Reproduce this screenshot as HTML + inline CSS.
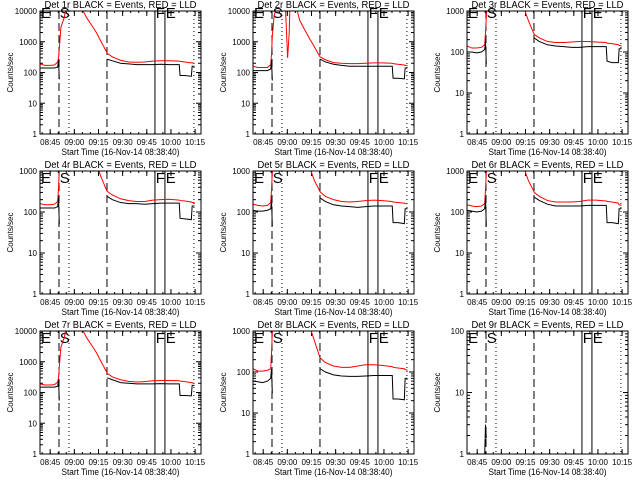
<!DOCTYPE html>
<html><head><meta charset="utf-8"><style>
html,body{margin:0;padding:0;background:#fff;}
svg{display:block;font-family:"Liberation Sans",sans-serif;}
</style></head><body>
<svg id="chart" width="640" height="480" viewBox="0 0 640 480" xmlns="http://www.w3.org/2000/svg">
<rect x="0" y="0" width="640" height="480" fill="#fff"/>
</svg>
<script>
// minutes since 08:38:40
const times = [0,3,6,9,11,11.5,12,13,15,17,20,21.5,22.5,23,26,29,32,35,38,41.5,41.7,45,50,55,60,65,70,75,80,86.5,87,90,94,94.5,96];
const N = null;
const detNames = ["1r","2r","3r","4r","5r","6r","7r","8r","9r"];
const yMaxes = [10000,10000,1000,1000,1000,1000,10000,1000,100];
const xTickLabels = ["08:45","09:00","09:15","09:30","09:45","10:00","10:15"];
const xTickTimes = [6.33,21.33,36.33,51.33,66.33,81.33,96.33];
const dashedTimes = [11.8,41.6];
const dottedTimes = [18,95.6];
const solidTimes = [71.4,77.6];
const markerLetters = ["E","S","F","E"];
const markerTimes = [0.6,12.3,71.9,78.1];

const black1 = [140,140,140,140,150,250,60,N,N,N,N,N,N,N,N,N,N,N,N,N,270,240,200,190,180,180,180,185,180,180,80,80,75,160,160];
const red1 = [190,170,170,175,220,300,600,3000,6000,20000,20000,20000,20000,20000,12000,6000,3500,2000,1000,450,420,320,250,220,215,220,235,240,240,235,230,220,205,205,200];
const black2 = [115,115,115,115,130,250,55,N,N,N,N,N,N,N,N,N,N,N,N,N,270,220,185,170,160,160,160,160,160,160,65,65,62,140,140];
const red2 = [160,145,145,145,180,400,1500,6000,20000,20000,20000,300,2000,20000,20000,5000,2500,1300,700,330,320,260,210,200,195,195,200,205,205,200,195,185,175,170,165];
const black3 = [100,100,95,100,115,180,50,N,N,N,N,N,N,N,N,N,N,N,N,N,220,180,150,140,135,130,130,135,135,135,60,55,55,120,120];
const red3 = [140,125,125,130,150,300,700,3000,20000,20000,20000,20000,20000,20000,20000,5000,2500,1300,600,280,270,220,180,170,170,175,180,180,175,170,165,160,150,145,140];
const black4 = [125,125,125,125,135,220,50,N,N,N,N,N,N,N,N,N,N,N,N,N,240,200,170,160,160,155,160,165,165,165,70,68,65,140,140];
const red4 = [160,150,150,155,180,400,1000,4000,20000,20000,20000,20000,20000,20000,20000,6000,3000,1500,700,330,320,260,210,190,180,180,195,200,205,195,190,185,175,170,170];
const black5 = [110,105,105,110,120,200,45,N,N,N,N,N,N,N,N,N,N,N,N,N,220,180,150,140,135,130,135,140,140,140,55,55,52,120,120];
const red5 = [155,145,140,145,170,350,900,4000,20000,20000,20000,20000,20000,20000,20000,5000,2500,1300,600,320,310,240,200,180,175,180,190,195,190,180,175,170,165,160,160];
const black6 = [110,105,100,105,120,220,45,N,N,N,N,N,N,N,N,N,N,N,N,N,230,190,155,140,140,140,140,145,145,145,55,55,52,120,120];
const red6 = [150,140,135,140,160,350,900,4000,20000,20000,20000,20000,20000,20000,20000,5000,2500,1300,600,320,300,240,190,175,175,175,180,195,195,185,180,175,165,150,145];
const black7 = [150,150,150,150,160,250,55,N,N,N,N,N,N,N,N,N,N,N,N,N,300,260,210,200,190,190,190,195,190,190,80,80,78,170,170];
const red7 = [190,175,175,180,220,300,700,3000,6000,20000,20000,20000,20000,20000,12000,6000,3500,2000,1000,450,420,320,260,230,220,225,240,245,245,240,235,225,210,205,200];
const black8 = [60,58,55,60,70,120,30,N,N,N,N,N,N,N,N,N,N,N,N,N,120,100,85,80,78,78,80,82,82,82,22,22,21,70,70];
const red8 = [120,105,105,110,120,300,900,4000,20000,20000,20000,20000,20000,20000,20000,6000,3000,1400,600,230,220,170,140,130,130,140,150,150,145,135,130,125,120,115,110];
const black9 = [N,N,N,N,1,3,1.8,N,N,N,N,N,N,N,N,N,N,N,N,N,N,N,N,N,N,N,N,N,N,N,N,N,N,N,N];
const red9 = [N,N,N,N,N,N,N,N,N,N,N,N,N,N,N,N,N,N,N,N,N,N,N,N,N,N,N,N,N,N,N,N,N,N,N];
const blacks = [black1,black2,black3,black4,black5,black6,black7,black8,black9];
const reds = [red1,red2,red3,red4,red5,red6,red7,red8,red9];

const NS = "http://www.w3.org/2000/svg";
const svg = document.getElementById("chart");
function mk(tag, attrs, parent){
  const e = document.createElementNS(NS, tag);
  for (const k in attrs) e.setAttribute(k, attrs[k]);
  (parent||svg).appendChild(e);
  return e;
}
const colLefts = [40,253,467];
const rowTops = [11,171,331];
const PW = 161, PH = 123, TSPAN = 100;

for (let p = 0; p < 9; p++) {
  const L = colLefts[p%3], T = rowTops[Math.floor(p/3)], B = T + PH, R = L + PW;
  const ymax = yMaxes[p];
  const lmax = Math.log10(ymax);
  const xs = t => L + t*PW/TSPAN;
  const ys = v => B - Math.log10(v)/lmax*PH;
  const g = mk("g", {});
  
  
  const cid = "clip"+p;
  const cp = mk("clipPath", {id:cid}, g);
  mk("rect", {x:L, y:T, width:PW, height:PH}, cp);

  const title = mk("text", {x:L+PW/2, y:T-3, "text-anchor":"middle", "font-size":"10", textLength:"152", lengthAdjust:"spacingAndGlyphs"}, g);
  title.textContent = "Det " + detNames[p] + " BLACK = Events, RED = LLD";
  
  

  const yt = mk("text", {x:0, y:0, transform:"translate(" + (L-27) + "," + (T+PH/2) + ") rotate(-90)", "text-anchor":"middle", "font-size":"8"}, g);
  yt.textContent = "Counts/sec";
  
  

  const xt = mk("text", {x:L+PW/2, y:B+21, "text-anchor":"middle", "font-size":"9", textLength:"118", lengthAdjust:"spacingAndGlyphs"}, g);
  xt.textContent = "Start Time (16-Nov-14 08:38:40)";
  
  

  for (let d = 0; d <= lmax; d++) {
    const v = Math.pow(10,d), y = ys(v);
    mk("line", {x1:L, x2:L+5, y1:y, y2:y, stroke:"#000"}, g);
    mk("line", {x1:R, x2:R-5, y1:y, y2:y, stroke:"#000"}, g);
    const lab = mk("text", {x:L-3, y:y+3, "text-anchor":"end", "font-size":"8"}, g);
    lab.textContent = String(v);
    
    
    if (d < lmax) for (let m = 2; m <= 9; m++) {
      const ym = ys(m*v);
      mk("line", {x1:L, x2:L+3, y1:ym, y2:ym, stroke:"#000"}, g);
      mk("line", {x1:R, x2:R-3, y1:ym, y2:ym, stroke:"#000"}, g);
    }
  }
  for (let t = 1.33; t < TSPAN; t += 5) {
    const x = xs(t);
    mk("line", {x1:x, x2:x, y1:B, y2:B-2, stroke:"#000"}, g);
    mk("line", {x1:x, x2:x, y1:T, y2:T+2, stroke:"#000"}, g);
  }
  xTickTimes.forEach((t,i) => {
    const x = xs(t);
    mk("line", {x1:x, x2:x, y1:B, y2:B-5, stroke:"#000"}, g);
    mk("line", {x1:x, x2:x, y1:T, y2:T+5, stroke:"#000"}, g);
    const lab = mk("text", {x:x, y:B+11, "text-anchor":"middle", "font-size":"8"}, g);
    lab.textContent = xTickLabels[i];
    
    
  });

  dashedTimes.forEach(t => { const l = mk("line", {x1:xs(t), x2:xs(t), y1:T, y2:B, stroke:"#000", "stroke-dasharray":"8 4"}, g);
      });
  dottedTimes.forEach(t => { const l = mk("line", {x1:xs(t), x2:xs(t), y1:T, y2:B, stroke:"#000", "stroke-dasharray":"1 3"}, g);
      });
  solidTimes.forEach(t => { const l = mk("line", {x1:xs(t), x2:xs(t), y1:T, y2:B, stroke:"#000"}, g);
      });
  markerLetters.forEach((s,i) => {
    const tx = mk("text", {x:xs(markerTimes[i]), y:T + (T < 20 ? 7 : 12), "font-size":"15", "font-weight":"normal"}, g);
    tx.textContent = s;
    
    
  });

  function drawSeries(vals, color, name) {
    let segs = [], cur = [];
    vals.forEach((v,i) => {
      if (v === null) { if (cur.length) segs.push(cur); cur = []; }
      else cur.push(xs(times[i]).toFixed(2) + "," + ys(v).toFixed(2));
    });
    if (cur.length) segs.push(cur);
    segs.forEach(s => {
      if (s.length === 1) s.push(s[0]);
      const pl = mk("polyline", {points:s.join(" "), fill:"none", stroke:color, "stroke-width":"1", "clip-path":"url(#"+cid+")"}, g);
      
      
    });
  }
  drawSeries(reds[p], "#ff0000", "lld-rate-line");
  drawSeries(blacks[p], "#000000", "event-rate-line");

  const box = mk("rect", {x:L, y:T, width:PW, height:PH, fill:"none", stroke:"#000", "stroke-width":"1"}, g);
  
  
}
</script>
</body></html>
